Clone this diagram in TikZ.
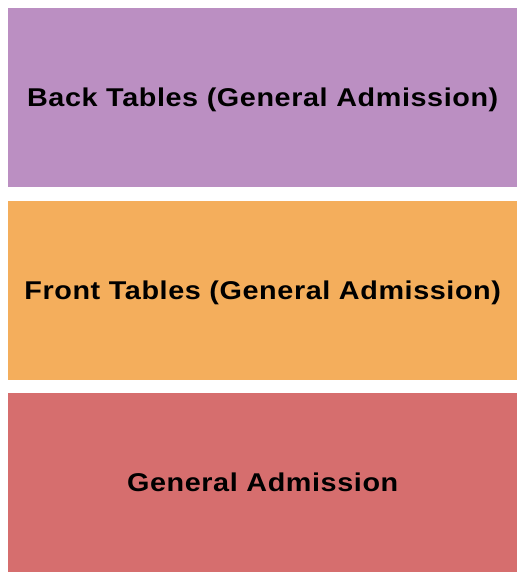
\documentclass[tikz,border=0pt]{standalone}
\usepackage{fontspec}
\setmainfont{Liberation Sans}
\newfontfamily\widesans[FakeStretch=1.12,LetterSpace=2.3]{Liberation Sans}
\definecolor{backc}{RGB}{187,143,194}
\definecolor{frontc}{RGB}{244,174,92}
\definecolor{gac}{RGB}{214,110,110}
\begin{document}
\begin{tikzpicture}[x=1pt,y=-1pt,
  section/.style={draw=none,minimum width=509pt,minimum height=179pt,inner sep=0pt,anchor=north west,text height=18.4pt,text depth=0pt,font=\widesans\fontsize{25.7}{30}\selectfont\bfseries}]
\useasboundingbox (0,0) rectangle (525,580);
\node[section,fill=backc] (back) at (8,8) {Back Tables (General Admission)};
\node[section,fill=frontc] (front) at (8,201) {Front Tables (General Admission)};
\node[section,fill=gac] (ga) at (8,393) {General Admission};
\end{tikzpicture}
\end{document}
